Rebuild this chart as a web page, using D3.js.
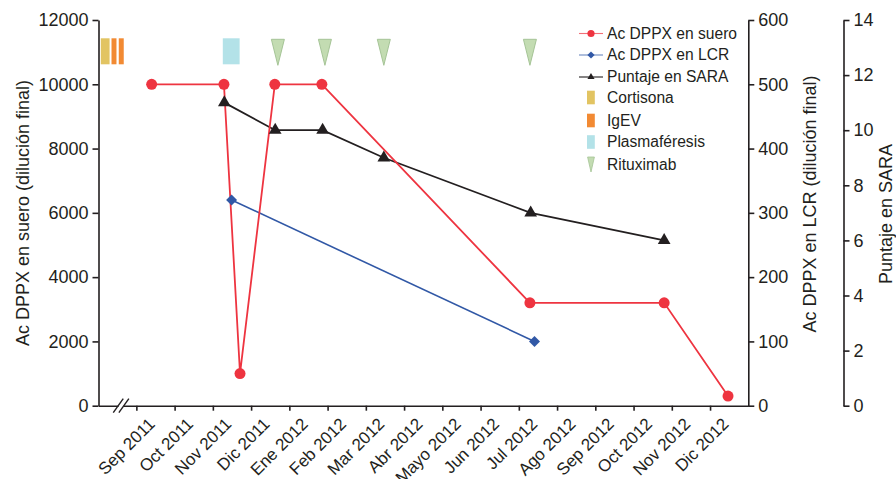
<!DOCTYPE html>
<html>
<head>
<meta charset="utf-8">
<script src="https://cdn.jsdelivr.net/npm/d3@7"></script>
<style>
  body { margin: 0; background: #fff; }
  text { font-family: "Liberation Sans", Arial, Helvetica, sans-serif; fill: #231f20; }
  .axis path, .axis line { stroke: #231f20; stroke-width: 1.6; }
  .axis text { font-size: 18px; }
</style>
</head>
<body>
<div id="chart"></div>
<script>
// months on x axis (position = months since 1 Sep 2011)
var months = ["Sep 2011", "Oct 2011", "Nov 2011", "Dic 2011", "Ene 2012", "Feb 2012", "Mar 2012", "Abr 2012",
    "Mayo 2012", "Jun 2012", "Jul 2012", "Ago 2012", "Sep 2012", "Oct 2012", "Nov 2012", "Dic 2012"];

// Ac DPPX en suero
var sueroMes = [0.4, 2.29, 2.71, 3.62, 4.85, 10.29, 13.8, 15.47];
var sueroVal = [10000, 10000, 1000, 10000, 10000, 3200, 3200, 300];
// Ac DPPX en LCR
var lcrMes = [2.49, 10.41];
var lcrVal = [320, 100];
// Puntaje en SARA
var saraMes = [2.3, 3.63, 4.87, 6.47, 10.31, 13.8];
var saraVal = [11, 10, 10, 9, 7, 6];

// treatments (start, end month)
var cortisona = [[-0.93, -0.70]];
var igev = [[-0.65, -0.52], [-0.46, -0.33]];
var plasmaferesis = [[2.26, 2.70]];
var rituximab = [3.70, 4.93, 6.47, 10.29];

var red = "#ee3440", blue = "#3158a6", black = "#231f20";
var gold = "#e2c462", orange = "#f28a33", cyan = "#b3e2e8", green = "#c3dcb2";

var width = 896, height = 479;
var margin = {top: 20, left: 98.5, right: 147.7, bottom: 73.3};
var plotW = width - margin.left - margin.right;
var plotH = height - margin.top - margin.bottom;

var svg = d3.select("#chart").append("svg")
    .attr("width", width)
    .attr("height", height);

var g = svg.append("g")
    .attr("transform", "translate(" + margin.left + "," + margin.top + ")");

//Scales
var x = d3.scaleLinear().domain([-0.99, 16]).range([0, plotW]);
var ySuero = d3.scaleLinear().domain([0, 12000]).range([plotH, 0]);
var yLcr = d3.scaleLinear().domain([0, 600]).range([plotH, 0]);
var ySara = d3.scaleLinear().domain([0, 14]).range([plotH, 0]);

//Axes
g.append("g")
    .attr("class", "axis")
    .call(d3.axisLeft(ySuero).tickValues(d3.range(0, 12001, 2000)).tickFormat(d3.format("d"))
        .tickSize(6).tickSizeOuter(0).tickPadding(4));

g.append("g")
    .attr("class", "axis")
    .attr("transform", "translate(" + plotW + ",0)")
    .call(d3.axisRight(yLcr).tickValues(d3.range(0, 601, 100)).tickSize(6).tickSizeOuter(0).tickPadding(4));

g.append("g")
    .attr("class", "axis")
    .attr("transform", "translate(" + (plotW + 95.2) + ",0)")
    .call(d3.axisRight(ySara).tickValues(d3.range(0, 15, 2)).tickSize(6).tickSizeOuter(0).tickPadding(4));

var xAxis = g.append("g")
    .attr("class", "axis")
    .attr("transform", "translate(0," + plotH + ")")
    .call(d3.axisBottom(x).tickValues(d3.range(0, 16)).tickFormat("").tickSize(5).tickSizeOuter(0));

// month labels centred on each month
xAxis.selectAll(".mlabel")
    .data(months)
    .enter()
    .append("text")
    .attr("class", "mlabel")
    .attr("text-anchor", "end")
    .attr("transform", function(d, i) {
        return "translate(" + (x(i + 0.5) - 8) + ",11) rotate(-45)";
    })
    .attr("dy", "0.7em")
    .style("font-size", "17px")
    .text(function(d) { return d; });

// axis break
var bx = x(-0.4);
xAxis.append("rect")
    .attr("x", bx - 2.5).attr("y", -8).attr("width", 5).attr("height", 16)
    .style("fill", "#fff");
[-2.8, 2.8].forEach(function(o) {
    xAxis.append("line")
        .attr("x1", bx + o - 5).attr("y1", 7)
        .attr("x2", bx + o + 5).attr("y2", -7)
        .style("stroke", black).style("stroke-width", 1.4);
});

//Axis titles
svg.append("text")
    .attr("transform", "translate(23,213) rotate(-90)")
    .attr("text-anchor", "middle").attr("dy", "0.35em")
    .style("font-size", "18px")
    .text("Ac DPPX en suero (dilución final)");
svg.append("text")
    .attr("transform", "translate(810,204) rotate(-90)")
    .attr("text-anchor", "middle").attr("dy", "0.35em")
    .style("font-size", "18px")
    .text("Ac DPPX en LCR (dilución final)");
svg.append("text")
    .attr("transform", "translate(886,214) rotate(-90)")
    .attr("text-anchor", "middle").attr("dy", "0.35em")
    .style("font-size", "18px")
    .text("Puntaje en SARA");

//Treatments along the top
var barTop = 18.3, barH = 26;
g.selectAll(".cort").data(cortisona).enter().append("rect")
    .attr("x", function(d) { return x(d[0]); })
    .attr("width", function(d) { return x(d[1]) - x(d[0]); })
    .attr("y", barTop).attr("height", barH)
    .style("fill", gold);
g.selectAll(".igev").data(igev).enter().append("rect")
    .attr("x", function(d) { return x(d[0]); })
    .attr("width", function(d) { return x(d[1]) - x(d[0]); })
    .attr("y", barTop).attr("height", barH)
    .style("fill", orange);
g.selectAll(".plas").data(plasmaferesis).enter().append("rect")
    .attr("x", function(d) { return x(d[0]); })
    .attr("width", function(d) { return x(d[1]) - x(d[0]); })
    .attr("y", barTop).attr("height", barH)
    .style("fill", cyan);
g.selectAll(".ritu").data(rituximab).enter().append("path")
    .attr("d", function(d) {
        var cx = x(d);
        return "M" + (cx - 6.5) + "," + (barTop + 1) + "L" + (cx + 6.5) + "," + (barTop + 1) +
            "L" + cx + "," + (barTop + barH + 1) + "Z";
    })
    .style("fill", green)
    .style("stroke", "#a5c496")
    .style("stroke-width", 1);

//Lines
function pts(ms, vs) {
    return ms.map(function(m, i) { return [m, vs[i]]; });
}
var suero = pts(sueroMes, sueroVal);
var lcr = pts(lcrMes, lcrVal);
var sara = pts(saraMes, saraVal);

g.append("path").datum(lcr)
    .attr("d", d3.line().x(function(d) { return x(d[0]); }).y(function(d) { return yLcr(d[1]); }))
    .style("fill", "none").style("stroke", blue).style("stroke-width", 1.6);
g.append("path").datum(sara)
    .attr("d", d3.line().x(function(d) { return x(d[0]); }).y(function(d) { return ySara(d[1]); }))
    .style("fill", "none").style("stroke", black).style("stroke-width", 1.8);
g.append("path").datum(suero)
    .attr("d", d3.line().x(function(d) { return x(d[0]); }).y(function(d) { return ySuero(d[1]); }))
    .style("fill", "none").style("stroke", red).style("stroke-width", 1.8);

//Markers
var tri = d3.symbol().type(d3.symbolTriangle).size(70);
var dia = d3.symbol().type(d3.symbolSquare).size(60);

g.selectAll(".tri").data(sara).enter().append("path")
    .attr("d", tri)
    .attr("transform", function(d) { return "translate(" + x(d[0]) + "," + ySara(d[1]) + ")"; })
    .style("fill", black);
g.selectAll(".dia").data(lcr).enter().append("path")
    .attr("d", dia)
    .attr("transform", function(d) { return "translate(" + x(d[0]) + "," + yLcr(d[1]) + ") rotate(45)"; })
    .style("fill", blue);
g.selectAll(".dot").data(suero).enter().append("circle")
    .attr("cx", function(d) { return x(d[0]); })
    .attr("cy", function(d) { return ySuero(d[1]); })
    .attr("r", 5.5)
    .style("fill", red);

//Legend
var legend = svg.append("g").attr("transform", "translate(579,0)");
var legItems = [
    {name: "Ac DPPX en suero", type: "line", color: red, mark: "circle"},
    {name: "Ac DPPX en LCR", type: "line", color: blue, mark: "diamond"},
    {name: "Puntaje en SARA", type: "line", color: black, mark: "triangle"},
    {name: "Cortisona", type: "rect", color: gold},
    {name: "IgEV", type: "rect", color: orange},
    {name: "Plasmaféresis", type: "rect", color: cyan},
    {name: "Rituximab", type: "tri", color: green}
];
var legY = [33.5, 55, 77, 97.5, 120.5, 142, 164.5];

legItems.forEach(function(d, i) {
    var row = legend.append("g").attr("transform", "translate(0," + legY[i] + ")");
    if (d.type === "line") {
        row.append("line").attr("x1", 0).attr("x2", 24).attr("y1", 0).attr("y2", 0)
            .style("stroke", d.color).style("stroke-width", 1.1).style("opacity", d.color === black ? 1 : 0.7);
        if (d.mark === "circle") {
            row.append("circle").attr("cx", 12).attr("cy", 0).attr("r", 3.6).style("fill", d.color);
        } else if (d.mark === "diamond") {
            row.append("path").attr("d", d3.symbol().type(d3.symbolSquare).size(26))
                .attr("transform", "translate(12,0) rotate(45)").style("fill", d.color);
        } else {
            row.append("path").attr("d", d3.symbol().type(d3.symbolTriangle).size(22))
                .attr("transform", "translate(12,0)").style("fill", d.color);
        }
    } else if (d.type === "rect") {
        row.append("rect").attr("x", 8).attr("y", -6.8).attr("width", 7.8).attr("height", 13.6)
            .style("fill", d.color);
    } else {
        row.append("path").attr("d", "M8.6,-7.5L15.4,-7.5L12,7.5Z")
            .style("fill", d.color).style("stroke", "#a5c496").style("stroke-width", 0.8);
    }
    row.append("text").attr("x", 28).attr("dy", "0.35em")
        .style("font-size", "15.6px")
        .text(d.name);
});
</script>
</body>
</html>
